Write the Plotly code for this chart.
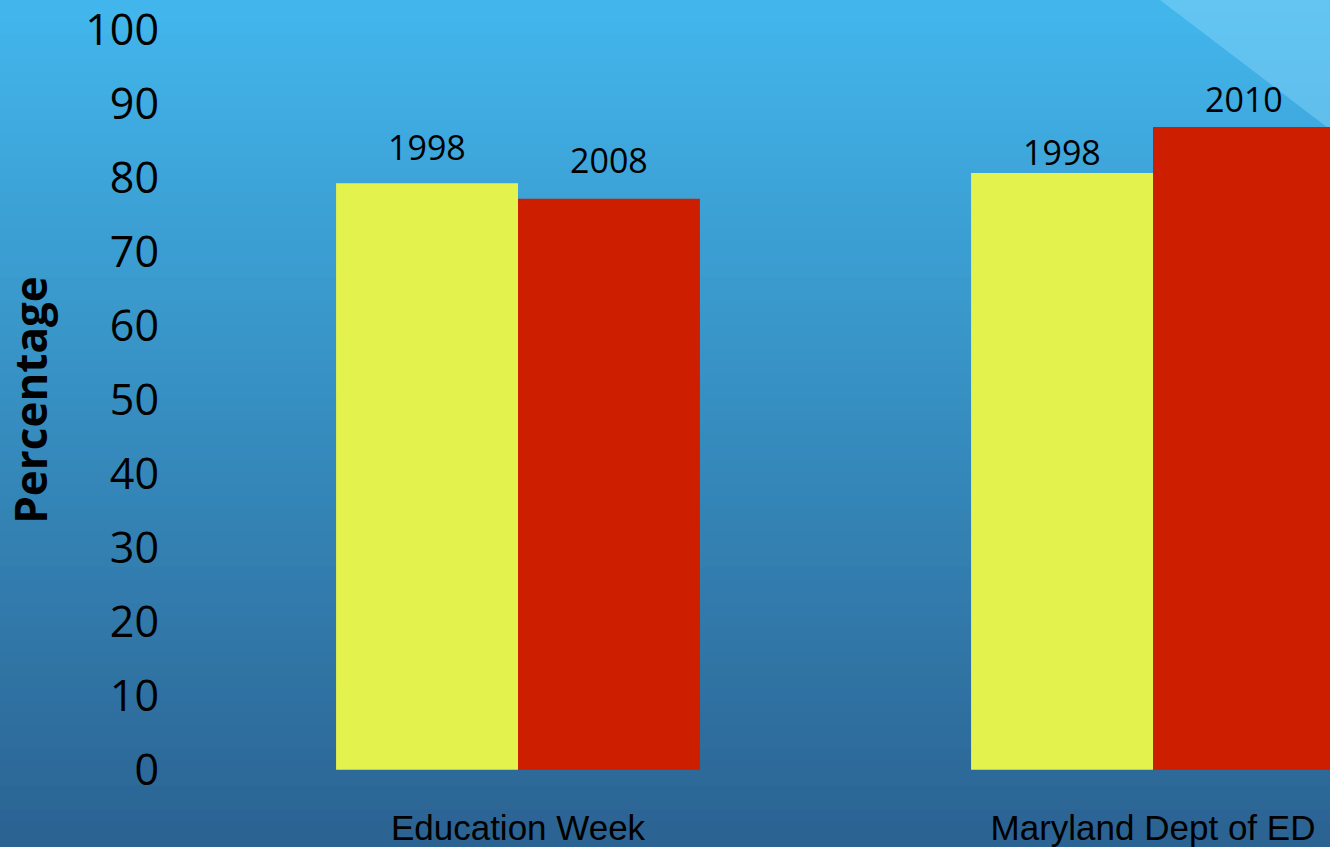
import plotly.graph_objects as go

# ---- data ----
categories = ["Education Week", "Maryland Dept of ED"]
series_first_values = [79.3, 80.7]
series_second_values = [77.2, 86.9]
first_labels = ["1998", "1998"]
second_labels = ["2008", "2010"]
y_ticks = [0, 10, 20, 30, 40, 50, 60, 70, 80, 90, 100]

# ---- style ----
W, H = 1330, 847
ML, MR, MT, MB = 170, 0, 30, 77
YELLOW = "#e4f24e"
RED = "#cd1f00"
BARGAP = 0.427
label_shift_first = [36, 21]
label_shift_second = [39, 28]

x_pos = list(range(len(categories)))
plot_w = W - ML - MR
plot_h = H - MT - MB
unit_px = 635.0
x_lo = -(518 - ML) / unit_px
x_hi = x_lo + plot_w / unit_px

fig = go.Figure()
fig.add_trace(go.Bar(x=x_pos, y=series_first_values, marker=dict(color=YELLOW, line=dict(width=0)),
                     name="first", showlegend=False, hoverinfo="skip"))
fig.add_trace(go.Bar(x=x_pos, y=series_second_values, marker=dict(color=RED, line=dict(width=0)),
                     name="second", showlegend=False, hoverinfo="skip"))

# background vertical gradient via paper-referenced bands
top = (66, 182, 236)
bot = (43, 99, 146)
n = 70
y_top_paper = (plot_h + MT) / plot_h  # top of figure in paper coords
y_bot_paper = -MB / plot_h
shapes = []
for i in range(n):
    t = i / (n - 1)
    c = tuple(round(top[k] + (bot[k] - top[k]) * t) for k in range(3))
    y1 = y_top_paper + (y_bot_paper - y_top_paper) * i / n
    y0 = y_top_paper + (y_bot_paper - y_top_paper) * (i + 1) / n
    shapes.append(dict(type="rect", xref="paper", yref="paper",
                       x0=-ML / plot_w - 0.01, x1=1.01, y0=y0 - 0.002, y1=y1 + 0.002,
                       fillcolor="rgb(%d,%d,%d)" % c, line=dict(width=0), layer="below"))
# light decorative triangle in top-right corner
def px_to_paper(px, py):
    return (px - ML) / plot_w, (plot_h + MT - py) / plot_h
ax0, ay0 = px_to_paper(1160, 0)
ax1, ay1 = px_to_paper(1340, 0)
ax2, ay2 = px_to_paper(1340, 137)
shapes.append(dict(type="path", xref="paper", yref="paper",
                   path=f"M {ax0},{ay0} L {ax1},{ay1} L {ax2},{ay2} Z",
                   fillcolor="rgba(140,215,250,0.45)", line=dict(width=0), layer="below"))

annotations = []
half = (1 - BARGAP) / 4
for i in x_pos:
    annotations.append(dict(x=i - half, y=series_first_values[i], xref="x", yref="y",
                            text=first_labels[i], showarrow=False, yanchor="middle",
                            yshift=label_shift_first[i],
                            font=dict(family="Open Sans", size=34, color="black")))
    annotations.append(dict(x=i + half, y=series_second_values[i], xref="x", yref="y",
                            text=second_labels[i], showarrow=False, yanchor="middle",
                            yshift=label_shift_second[i],
                            font=dict(family="Open Sans", size=34, color="black")))

fig.update_layout(
    width=W, height=H,
    margin=dict(l=ML, r=MR, t=MT, b=MB, pad=0),
    paper_bgcolor="rgb(58,140,196)",
    plot_bgcolor="rgba(0,0,0,0)",
    barmode="group", bargap=BARGAP, bargroupgap=0,
    shapes=shapes, annotations=annotations,
    xaxis=dict(range=[x_lo, x_hi], tickvals=x_pos, ticktext=categories,
               showgrid=False, zeroline=False, showline=False, ticks="",
               tickfont=dict(family="Liberation Sans", size=35, color="black"),
               ticklabelstandoff=34, ticklabeloverflow="allow"),
    yaxis=dict(range=[-0.02, 100.02], tickvals=y_ticks, showgrid=False, zeroline=False,
               showline=False, ticks="",
               tickfont=dict(family="Open Sans", size=43, color="black"),
               ticklabelstandoff=10, ticklabeloverflow="allow",
               title=dict(text="<b>Percentage</b>", standoff=46,
                          font=dict(family="Open Sans", size=44, color="black"))),
)

fig.write_html("out.html", config={"displayModeBar": False})

# remove the browser's default page margin so the figure fills the window
with open("out.html", "r", encoding="utf-8") as f:
    html = f.read()
html = html.replace("<head>", "<head><style>html,body{margin:0;padding:0;overflow:hidden;}</style>", 1)
with open("out.html", "w", encoding="utf-8") as f:
    f.write(html)
